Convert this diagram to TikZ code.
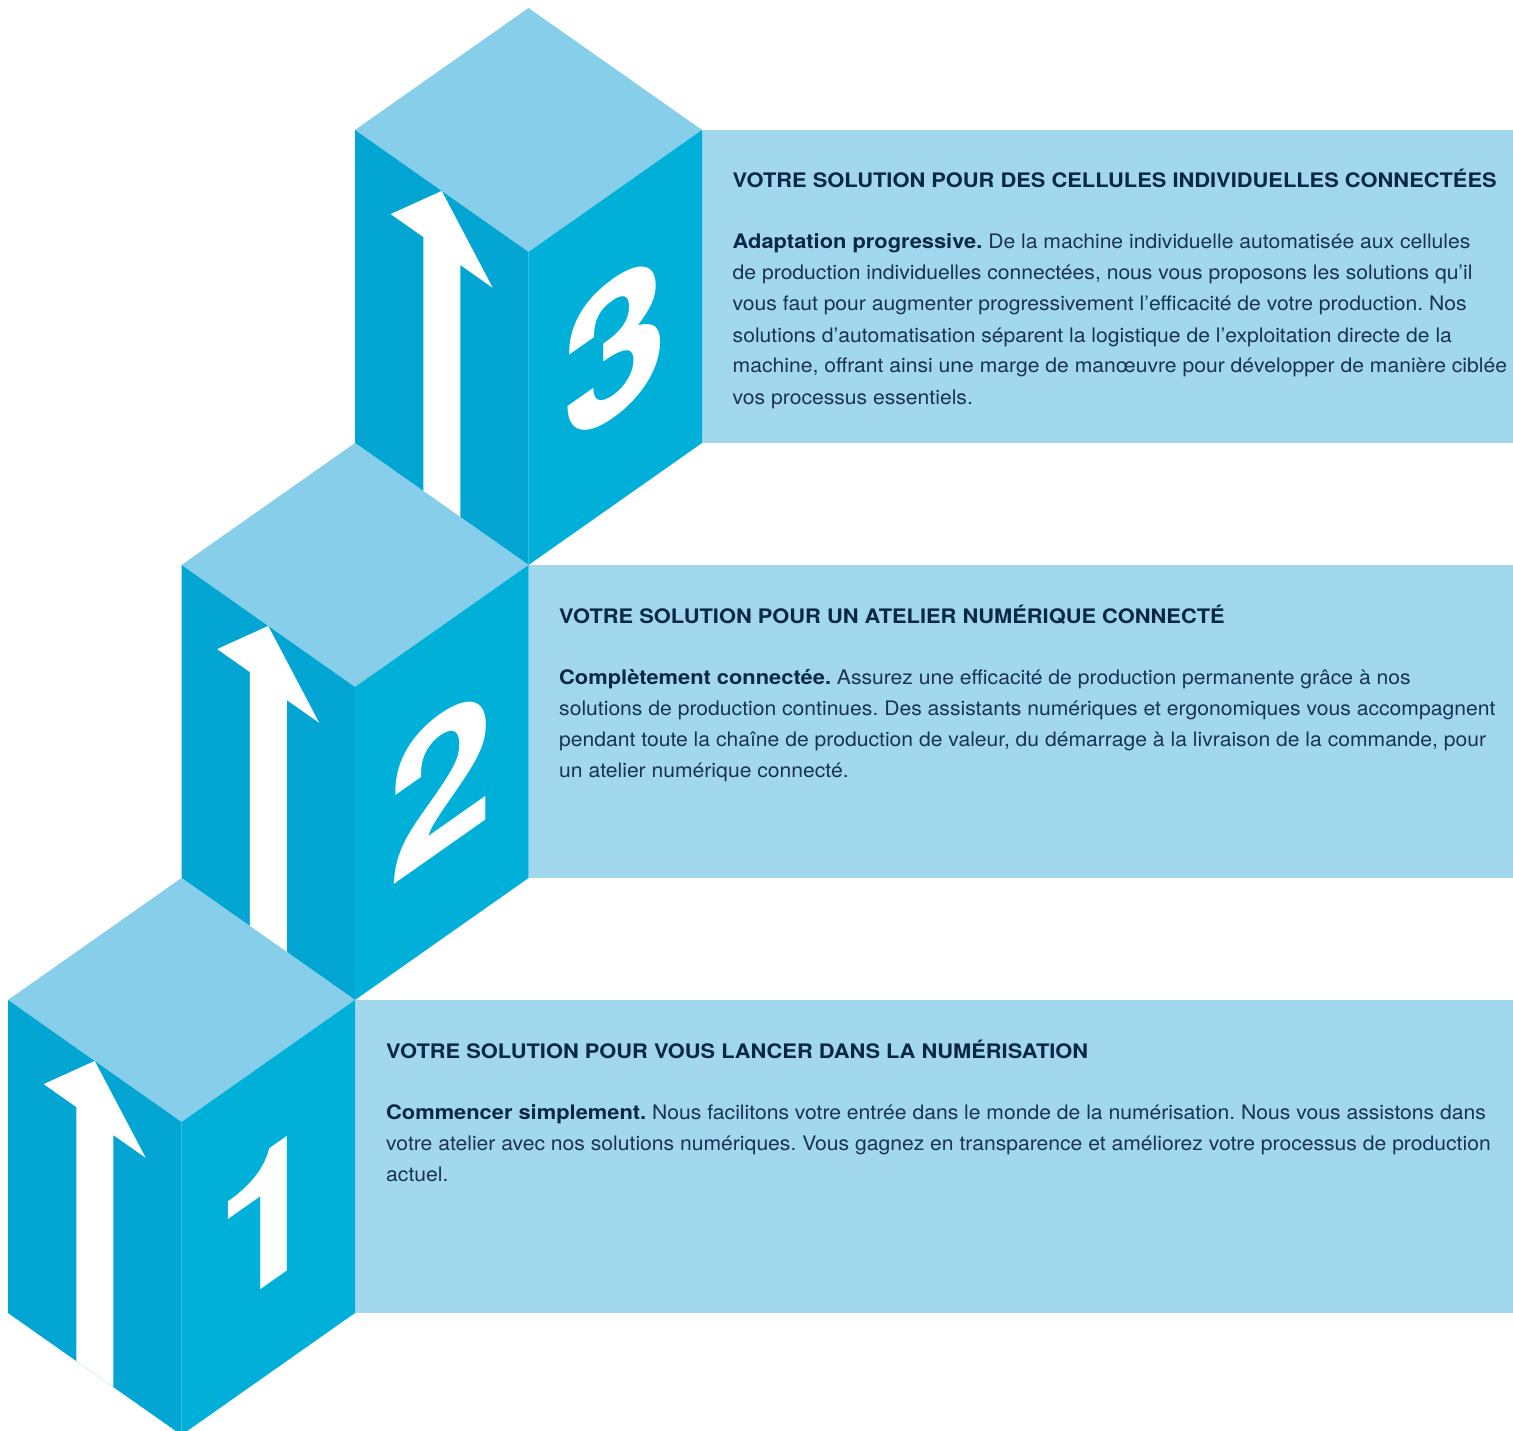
\documentclass[tikz,border=0pt]{standalone}
\usepackage{fontspec}
\setmainfont{TeX Gyre Heros}[FakeStretch=1.056]
\newfontfamily\heavyfont{TeX Gyre Heros}[FakeStretch=1.093]
\newfontfamily\numfont{TeX Gyre Heros}
\definecolor{topc}{RGB}{134,206,233}
\definecolor{leftc}{RGB}{3,166,211}
\definecolor{rightc}{RGB}{0,176,216}
\definecolor{panelc}{RGB}{161,216,237}
\definecolor{titlec}{RGB}{10,38,72}
\definecolor{bodyc}{RGB}{25,50,85}
\frenchspacing
\tikzset{
  topface/.style={fill=topc},
  leftface/.style={fill=leftc},
  rightface/.style={fill=rightc},
  panel/.style={fill=panelc},
  arrowshape/.style={fill=white},
  digit/.style={font=\fontsize{190}{190}\selectfont\numfont\bfseries, text=white, inner sep=0pt, transform shape},
  titletext/.style={font=\fontsize{20}{24}\selectfont\heavyfont\bfseries, text=titlec, anchor=base west, inner sep=0pt},
  bodytext/.style={font=\fontsize{20}{24}\selectfont, text=bodyc, anchor=base west, inner sep=0pt},
}
\newcommand{\lead}[1]{\textcolor{titlec}{\heavyfont\bfseries #1}}
\newcommand{\isocube}[4]{%
  \begin{scope}[shift={(#1,#2)}]
    \fill[topface]  (0,0) -- (173.5,-122) -- (347,0) -- (173.5,122) -- cycle;
    \fill[leftface] (0,0) -- (173.5,122) -- (173.5,435) -- (0,313) -- cycle;
    \fill[rightface] (173.5,122) -- (347,0) -- (347,313) -- (173.5,435) -- cycle;
    \begin{scope}[yslant=-0.703]
      \clip (0,0) rectangle (173.5,313);
      \fill[arrowshape] (35.7,59) -- (86.7,0) -- (137.7,61) -- (105.3,61)
        -- (105.3,330) -- (68.3,330) -- (68.3,59) -- cycle;
    \end{scope}
    \begin{scope}[shift={(260.25,217.5)}, yslant=0.703]
      \node[digit] (#4) at (0,0) {#3};
    \end{scope}
  \end{scope}}
\begin{document}
\begin{tikzpicture}[x=1pt,y=-1pt]
\useasboundingbox (0,0) rectangle (1513,1431);
\clip (0,0) rectangle (1513,1431);
\fill[white] (0,0) rectangle (1513,1431);
% panels
\fill[panel] (702,130) rectangle (1513,443);
\fill[panel] (528.5,565) rectangle (1513,878);
\fill[panel] (355,1000) rectangle (1513,1313);
% cubes
\isocube{355}{130}{3}{d3}
\isocube{181.5}{565}{2}{d2}
\isocube{8}{1000}{1}{d1}
% panel 3 text
\node[titletext] (t3) at (732.5,188) {VOTRE SOLUTION POUR DES CELLULES INDIVIDUELLES CONNECTÉES};
\node[bodytext] (b3a) at (732.5,249) {\lead{Adaptation progressive.} De la machine individuelle automatisée aux cellules};
\node[bodytext] (b3b) at (732.5,280) {de production individuelles connectées, nous vous proposons les solutions qu’il};
\node[bodytext] (b3c) at (732.5,311) {vous faut pour augmenter progressivement l’efficacité de votre production. Nos};
\node[bodytext] (b3d) at (732.5,342) {solutions d’automatisation séparent la logistique de l’exploitation directe de la};
\node[bodytext] (b3e) at (732.5,373) {machine, offrant ainsi une marge de manœuvre pour développer de manière ciblée};
\node[bodytext] (b3f) at (732.5,404) {vos processus essentiels.};
% panel 2 text
\node[titletext] (t2) at (559,623) {VOTRE SOLUTION POUR UN ATELIER NUMÉRIQUE CONNECTÉ};
\node[bodytext] (b2a) at (559,684) {\lead{Complètement connectée.} Assurez une efficacité de production permanente grâce à nos};
\node[bodytext] (b2b) at (559,715) {solutions de production continues. Des assistants numériques et ergonomiques vous accompagnent};
\node[bodytext] (b2c) at (559,746) {pendant toute la chaîne de production de valeur, du démarrage à la livraison de la commande, pour};
\node[bodytext] (b2d) at (559,777) {un atelier numérique connecté.};
% panel 1 text
\node[titletext] (t1) at (386,1058) {VOTRE SOLUTION POUR VOUS LANCER DANS LA NUMÉRISATION};
\node[bodytext] (b1a) at (386,1119) {\lead{Commencer simplement.} Nous facilitons votre entrée dans le monde de la numérisation. Nous vous assistons dans};
\node[bodytext] (b1b) at (386,1150) {votre atelier avec nos solutions numériques. Vous gagnez en transparence et améliorez votre processus de production};
\node[bodytext] (b1c) at (386,1181) {actuel.};
\end{tikzpicture}
\end{document}
